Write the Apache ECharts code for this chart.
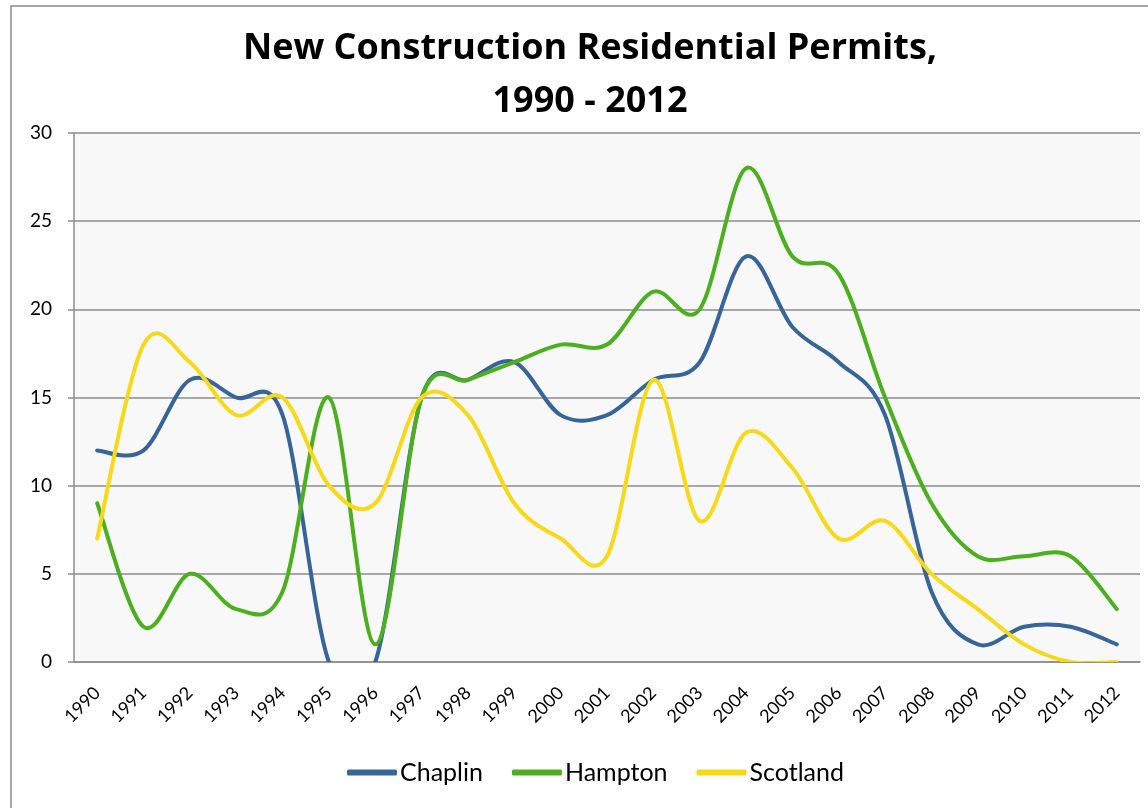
<!DOCTYPE html>
<html>
<head>
<meta charset="utf-8">
<script src="https://cdn.jsdelivr.net/npm/echarts@6/dist/echarts.min.js"></script>
<style>
  html, body { margin: 0; padding: 0; background: #fff; }
</style>
</head>
<body>
<div id="main" style="width: 1148px;height: 808px"></div>
<script type="text/javascript">
    // data
    var years = ['1990', '1991', '1992', '1993', '1994', '1995', '1996', '1997', '1998', '1999', '2000',
        '2001', '2002', '2003', '2004', '2005', '2006', '2007', '2008', '2009', '2010', '2011', '2012'];
    var chaplin = [12, 12, 16, 15, 14, 0, 0, 15, 16, 17, 14, 14, 16, 17, 23, 19, 17, 14, 4, 1, 2, 2, 1];
    var hampton = [9, 2, 5, 3, 4, 15, 1, 15, 16, 17, 18, 18, 21, 20, 28, 23, 22, 15, 9, 6, 6, 6, 3];
    var scotland = [7, 18, 17, 14, 15, 10, 9, 15, 14, 9, 7, 6, 16, 8, 13, 11, 7, 8, 5, 3, 1, 0, 0];
    var yTicks = [0, 5, 10, 15, 20, 25, 30];

    var font = 'Lato, "Open Sans", sans-serif';
    var gridColor = '#8c8c8c';

    var myChart = echarts.init(document.getElementById('main'));

    // Excel-style smoothed line: catmull-rom curve through the points the axes give us
    function line(name, values, color) {
        return {
            name: name,
            type: 'custom',
            data: values.map(function (v, i) { return [i, v]; }),
            encode: { x: 0, y: 1 },
            clip: true,
            itemStyle: { color: color },
            renderItem: function (params, api) {
                if (params.dataIndex !== 0) return null;
                var p = values.map(function (v, i) { return api.coord([i, v]); });
                var d = 'M' + p[0][0] + ' ' + p[0][1];
                for (var i = 0; i < p.length - 1; i++) {
                    var p0 = p[Math.max(i - 1, 0)], p1 = p[i], p2 = p[i + 1], p3 = p[Math.min(i + 2, p.length - 1)];
                    var c1x = p1[0] + (p2[0] - p0[0]) / 6, c1y = p1[1] + (p2[1] - p0[1]) / 6;
                    var c2x = p2[0] - (p3[0] - p1[0]) / 6, c2y = p2[1] - (p3[1] - p1[1]) / 6;
                    d += ' C' + c1x + ' ' + c1y + ' ' + c2x + ' ' + c2y + ' ' + p2[0] + ' ' + p2[1];
                }
                return {
                    type: 'path',
                    shape: { pathData: d },
                    style: { fill: null, stroke: color, lineWidth: 4, lineCap: 'round', lineJoin: 'round' }
                };
            }
        };
    }

    var option = {
        animation: false,
        textStyle: { fontFamily: font },
        title: {
            text: 'New Construction Residential Permits,\n1990 - 2012',
            left: 590,
            textAlign: 'center',
            top: 22,
            padding: 0,
            textStyle: { fontSize: 36, fontWeight: 'bold', color: '#000', lineHeight: 53, fontFamily: '"Open Sans", Lato, sans-serif' }
        },
        legend: {
            top: 760,
            left: 347,
            padding: 0,
            itemWidth: 50,
            itemHeight: 6,
            itemGap: 29,
            icon: 'roundRect',
            textStyle: { fontSize: 25, color: '#000', fontFamily: font, padding: [0, 0, 0, -2] },
            data: ['Chaplin', 'Hampton', 'Scotland']
        },
        graphic: [{
            type: 'rect',
            shape: { x: 11, y: 6, width: 1160, height: 830 },
            style: { fill: null, stroke: '#8a8a8a', lineWidth: 1.5 },
            silent: true
        }],
        grid: {
            left: 74, right: 8, top: 133, bottom: 146,
            show: true,
            backgroundColor: '#f8f8f8',
            borderWidth: 0
        },
        xAxis: {
            type: 'category',
            data: years,
            boundaryGap: true,
            axisLine: { lineStyle: { color: gridColor, width: 1.5 } },
            axisTick: { alignWithLabel: true, length: 6, lineStyle: { color: gridColor, width: 1.5 } },
            axisLabel: { rotate: 45, fontSize: 18, color: '#000', margin: 28, interval: 0, fontFamily: font }
        },
        yAxis: {
            type: 'value',
            min: yTicks[0],
            max: yTicks[yTicks.length - 1],
            interval: 5,
            axisLine: { show: true, lineStyle: { color: gridColor, width: 1.5 } },
            axisTick: { show: true, length: 6, lineStyle: { color: gridColor, width: 1.5 } },
            axisLabel: { fontSize: 19, color: '#000', margin: 22, fontFamily: font },
            splitLine: { lineStyle: { color: gridColor, width: 1.5 } }
        },
        series: [
            line('Chaplin', chaplin, '#37659a'),
            line('Hampton', hampton, '#4cb01e'),
            line('Scotland', scotland, '#f7d917')
        ]
    };

    myChart.setOption(option);
</script>
</body>
</html>
